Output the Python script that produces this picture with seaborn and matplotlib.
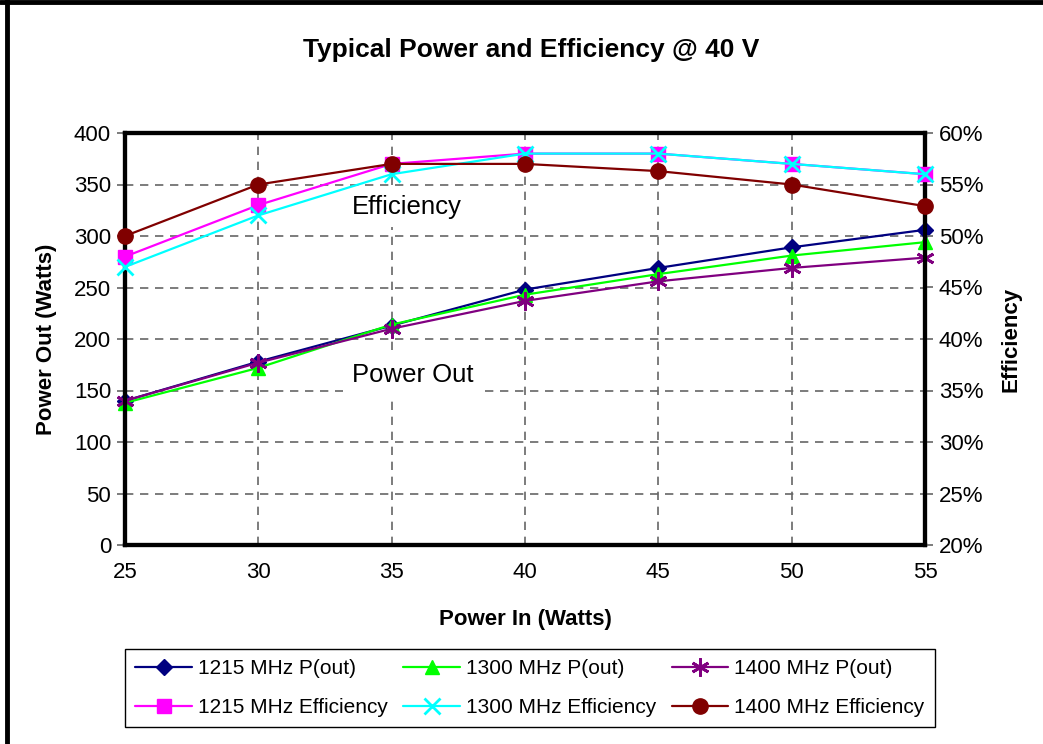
import matplotlib
matplotlib.use("Agg")
import matplotlib.pyplot as plt
import seaborn as sns
from matplotlib.ticker import PercentFormatter
from matplotlib.lines import Line2D

power_in = [25, 30, 35, 40, 45, 50, 55]
pout_1215 = [140, 178, 213, 248, 269, 289, 306]
pout_1300 = [138, 172, 214, 243, 263, 281, 294]
pout_1400 = [140, 177, 210, 237, 256, 269, 279]
eff_1215 = [48, 53, 57, 58, 58, 57, 56]
eff_1300 = [47, 52, 56, 58, 58, 57, 56]
eff_1400 = [50, 55, 57, 57, 56.3, 55, 52.9]

sns.set_theme(style="white")
plt.rcParams['font.family'] = ['Liberation Sans', 'DejaVu Sans']
plt.rcParams['text.color'] = 'black'
plt.rcParams['axes.labelcolor'] = 'black'

fig = plt.figure(figsize=(10.43, 7.44), dpi=100)
ax = fig.add_axes([125/1043, 1-545/744, 800/1043, 412/744])
ax2 = ax.twinx()

pout_series = [
    ("1215 MHz P(out)", pout_1215, "#000080", "D", 8),
    ("1300 MHz P(out)", pout_1300, "#00FF00", "^", 10),
    ("1400 MHz P(out)", pout_1400, "#800080", (6, 2, 0), 13),
]
eff_series = [
    ("1215 MHz Efficiency", eff_1215, "#FF00FF", "s", 10),
    ("1300 MHz Efficiency", eff_1300, "#00FFFF", "x", 11),
    ("1400 MHz Efficiency", eff_1400, "#800000", "o", 11),
]

handles = {}
for target, series in ((ax, pout_series), (ax2, eff_series)):
    for name, vals, col, mk, ms in series:
        mew = 2 if mk in ("x", (6, 2, 0)) else 1
        sns.lineplot(x=power_in, y=vals, ax=target, color=col, marker=mk, markersize=ms,
                     markeredgecolor=col, markeredgewidth=mew,
                     linewidth=1.6, clip_on=False, zorder=5)
        handles[name] = Line2D([], [], color=col, marker=mk, markersize=ms, markeredgecolor=col,
                               markeredgewidth=mew, linewidth=1.6)

ax.set_xlim(25, 55)
ax.set_ylim(0, 400)
ax2.set_ylim(20, 60)
ax.set_xticks(power_in)
ax.set_yticks(range(0, 401, 50))
ax2.set_yticks(range(20, 61, 5))
ax2.yaxis.set_major_formatter(PercentFormatter(decimals=0))

ax.grid(True, color="#666666", linestyle=(0, (5, 4)), linewidth=1.2)
ax.set_axisbelow(True)
for a in (ax, ax2):
    for s in a.spines.values():
        s.set_linewidth(3)
        s.set_color("black")
    a.tick_params(direction="out", length=6, width=1.2, color="#666666",
                  labelsize=16, labelcolor="black", pad=4)
ax.tick_params(axis="x", pad=6)

ax.set_xlabel("Power In (Watts)", fontsize=16, fontweight="bold", labelpad=19)
ax.set_ylabel("Power Out (Watts)", fontsize=16, fontweight="bold", labelpad=12)
ax2.set_ylabel("Efficiency", fontsize=16, fontweight="bold", labelpad=12)

fig.text(531/1043, 1-50/744, "Typical Power and Efficiency @ 40 V", fontsize=19,
         fontweight="bold", ha="center", va="center")

ax.text(33.5, 328, "Efficiency", fontsize=18.5, ha="left", va="center", zorder=3,
        bbox=dict(facecolor="white", edgecolor="none", pad=6))
ax.text(33.5, 165, "Power Out", fontsize=18.5, ha="left", va="center", zorder=3,
        bbox=dict(facecolor="white", edgecolor="none", pad=6))

order = ["1215 MHz P(out)", "1215 MHz Efficiency", "1300 MHz P(out)",
         "1300 MHz Efficiency", "1400 MHz P(out)", "1400 MHz Efficiency"]
leg = fig.legend([handles[k] for k in order], order, ncol=3, mode="expand",
                 bbox_to_anchor=(125/1043, 1-728/744, 810/1043, 80/744),
                 loc="center", fontsize=15, frameon=True, fancybox=False,
                 edgecolor="black", framealpha=1, borderaxespad=0,
                 handlelength=2.7, handletextpad=0.3, columnspacing=0.3,
                 labelspacing=0.95, borderpad=0.5)
leg.get_frame().set_linewidth(1.0)

fig.add_artist(Line2D([7/1043, 7/1043], [0, 1], transform=fig.transFigure, color="black", linewidth=3.5))
fig.add_artist(Line2D([0, 1], [1-2/744, 1-2/744], transform=fig.transFigure, color="black", linewidth=3.5))

fig.savefig("out.png", dpi=100)
